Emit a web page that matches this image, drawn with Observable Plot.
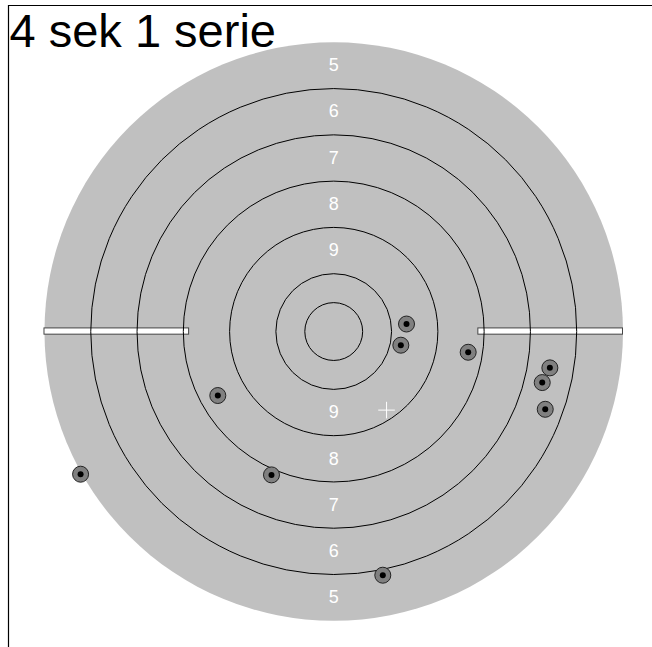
<!DOCTYPE html>
<html>
<head>
<meta charset="utf-8">
<script src="https://cdn.jsdelivr.net/npm/d3@7"></script>
<script src="https://cdn.jsdelivr.net/npm/@observablehq/plot@0.6"></script>
<style>
  html, body { margin: 0; padding: 0; background: #fff; }
  #chart svg { display: block; overflow: visible; }
</style>
</head>
<body>
<div id="chart"></div>
<script>
// ---- data (millimetres on the target, centre = 0,0) ----
const title = "4 sek 1 serie";
const targetRadius = 250;                       // outer edge of the 5 ring
const ringRadii = [25, 50, 90, 130, 170, 210];  // inner ten, 10, 9, 8, 7, 6
const labelScores = [5, 6, 7, 8, 9];
const labelRadii = [230, 190, 150, 110, 70];
const barInner = 125;
const barOuter = 250;
const barHalfHeight = 2.7;
const shotX = [62.9, 58.0, 116.2, 186.8, 180.2, 182.8, -100.2, -218.8, -53.8, 42.4];
const shotY = [6.5, -11.8, -17.9, -31.4, -44.1, -67.2, -55.3, -123.3, -123.9, -210.6];

// ---- layout ----
const W = 652, H = 647;
const mTop = 5, mLeft = 8, mRight = 0, mBottom = 0;
const pxPerMm = 1.157;
const xDomain = [-281.1, -281.1 + (W - mLeft - mRight) / pxPerMm];
const yDomain = [281.8 - (H - mTop - mBottom) / pxPerMm, 281.8];
const k = (W - mLeft - mRight) / (xDomain[1] - xDomain[0]);

const shots = shotX.map((x, i) => ({x, y: shotY[i]}));
const mean = [{x: d3.mean(shotX), y: d3.mean(shotY)}];
const labels = labelScores.flatMap((s, i) => [
  {s, y: labelRadii[i]},
  {s, y: -labelRadii[i]}
]);
const bars = [
  {x1: -barOuter, x2: -barInner},
  {x1: barInner, x2: barOuter}
];

const plusSymbol = {
  draw(context, size) {
    const r = Math.sqrt(size / Math.PI);
    context.moveTo(-r, 0); context.lineTo(r, 0);
    context.moveTo(0, -r); context.lineTo(0, r);
  }
};

const font = "'Liberation Sans', Arial, Helvetica, sans-serif";

const chart = Plot.plot({
  width: W,
  height: H,
  marginTop: mTop,
  marginLeft: mLeft,
  marginRight: mRight,
  marginBottom: mBottom,
  style: {fontFamily: font, background: "white"},
  x: {domain: xDomain, axis: null},
  y: {domain: yDomain, axis: null},
  r: {type: "identity"},
  marks: [
    Plot.dot([0], {x: 0, y: 0, r: () => targetRadius * k, fill: "#c0c0c0", stroke: "none"}),
    Plot.rect(bars, {x1: "x1", x2: "x2", y1: -barHalfHeight, y2: barHalfHeight, fill: "white", stroke: "#444", strokeWidth: 1}),
    Plot.dot(ringRadii, {x: 0, y: 0, r: d => d * k, fill: "none", stroke: "black", strokeWidth: 1}),
    Plot.text(labels, {x: 0, y: "y", text: d => String(d.s), fill: "white", fontSize: 18, textAnchor: "middle"}),
    Plot.dot(shots, {x: "x", y: "y", r: 8, fill: "#808080", stroke: "#222", strokeWidth: 1}),
    Plot.dot(shots, {x: "x", y: "y", r: 3, fill: "black", stroke: "none"}),
    Plot.dot(mean, {x: "x", y: "y", r: 8.3, symbol: plusSymbol, fill: "none", stroke: "white", strokeWidth: 1}),
    Plot.ruleY([yDomain[1]], {stroke: "black", strokeWidth: 1.2}),
    Plot.ruleX([xDomain[0]], {stroke: "black", strokeWidth: 1.2}),
    Plot.text([title], {frameAnchor: "top-left", text: d => d, dx: 1, dy: 8, fontSize: 47, fill: "black", textAnchor: "start", lineAnchor: "top"})
  ]
});
document.getElementById("chart").appendChild(chart);
</script>
</body>
</html>
